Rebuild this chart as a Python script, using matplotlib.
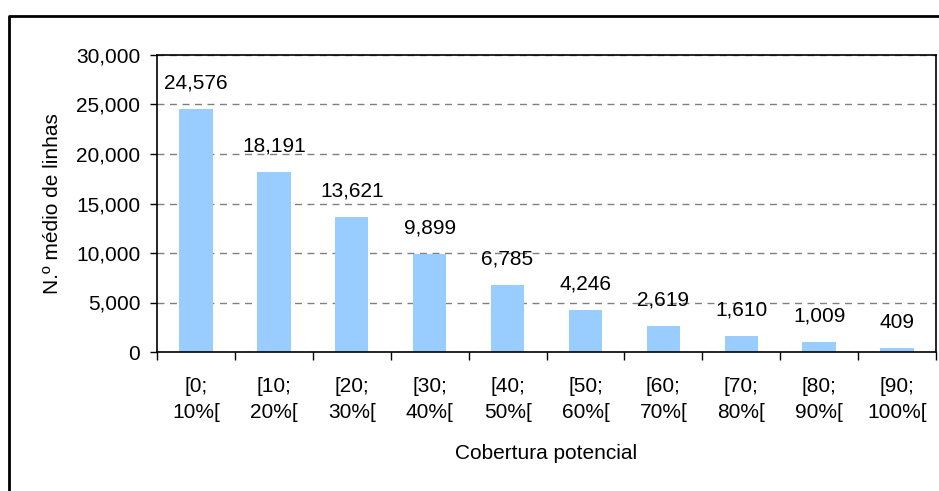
import numpy as np
import matplotlib.pyplot as plt
from matplotlib.lines import Line2D
from matplotlib.ticker import FuncFormatter

plt.rcParams['font.family'] = ['Liberation Sans', 'DejaVu Sans']

# Dados
categorias = ['[0;\n10%[', '[10;\n20%[', '[20;\n30%[', '[30;\n40%[', '[40;\n50%[',
              '[50;\n60%[', '[60;\n70%[', '[70;\n80%[', '[80;\n90%[', '[90;\n100%[']
valores = [24576, 18191, 13621, 9899, 6785, 4246, 2619, 1610, 1009, 409]

fs = 15

fig = plt.figure(figsize=(9.39, 4.91), dpi=100)
ax = fig.add_axes([157 / 939, 1 - 352 / 491, (936 - 157) / 939, (352 - 55) / 491])

x = np.arange(len(valores))
ax.bar(x, valores, width=0.43, color='#99CCFF', zorder=2)

for xi, v in zip(x, valores):
    ax.annotate(f'{v:,}', (xi, v), xytext=(0, 18.5), textcoords='offset points',
                ha='center', va='center', fontsize=fs)

ax.set_xlim(-0.5, len(valores) - 0.5)
ax.set_ylim(0, 30000)
ax.set_yticks(np.arange(0, 30001, 5000))
ax.yaxis.set_major_formatter(FuncFormatter(lambda v, p: f'{int(v):,}'))
ax.grid(axis='y', color='#808080', linestyle=(0, (5, 4)), linewidth=1, zorder=1)

ax.set_xticks(x)
ax.set_xticklabels(categorias, linespacing=1.46)
ax.set_xticks(np.arange(-0.5, len(valores)), minor=True)
ax.tick_params(axis='x', which='major', length=0, pad=18, labelsize=fs)
ax.tick_params(axis='x', which='minor', length=6, width=1)
ax.tick_params(axis='y', length=5, width=1, pad=7, labelsize=fs)

for s in ax.spines.values():
    s.set_linewidth(1.2)

ax.set_xlabel('Cobertura potencial', fontsize=fs, labelpad=16)
ax.set_ylabel('N.º médio de linhas', fontsize=fs, labelpad=10)

# moldura exterior
fig.add_artist(Line2D([9 / 939, 9 / 939, 1], [0, 1 - 16 / 491, 1 - 16 / 491],
                      transform=fig.transFigure, color='black', linewidth=2))

fig.savefig('out.png', dpi=100)
